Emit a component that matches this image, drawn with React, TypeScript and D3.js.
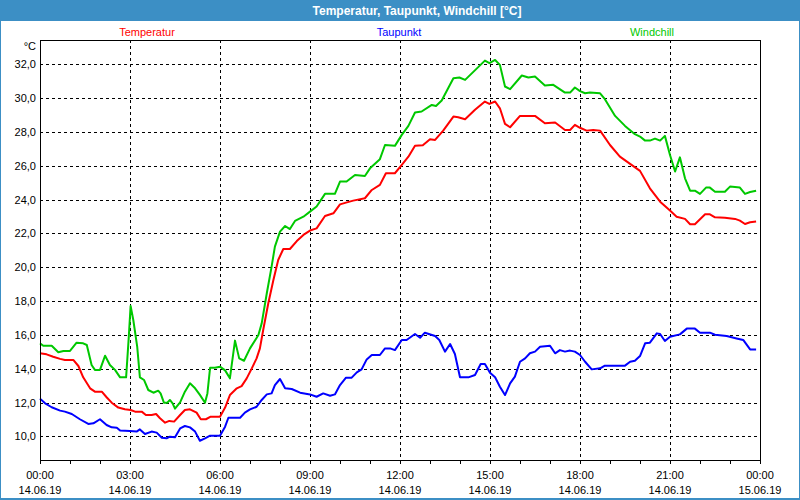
import React, { useEffect } from 'react';
import * as d3 from 'd3';

// hours since 14.06.19 00:00 and readings in °C
const tempHours = [0, 0.22, 0.44, 0.67, 0.83, 1.11, 1.28, 1.44, 1.67, 1.83, 2.06, 2.22, 2.39, 2.61, 2.83, 3.02, 3.17, 3.39, 3.53, 3.72, 3.87, 4.0, 4.17, 4.31, 4.47, 4.67, 4.83, 5.0, 5.22, 5.36, 5.53, 5.69, 6.0, 6.17, 6.33, 6.56, 6.72, 6.89, 7.06, 7.22, 7.33, 7.44, 7.61, 7.78, 7.94, 8.11, 8.33, 8.56, 8.78, 9.0, 9.22, 9.5, 9.78, 10.0, 10.2, 10.44, 10.83, 11.06, 11.33, 11.53, 11.83, 12.06, 12.28, 12.5, 12.76, 13.0, 13.17, 13.44, 13.78, 13.94, 14.17, 14.5, 14.83, 14.98, 15.17, 15.33, 15.5, 15.67, 16.0, 16.5, 16.83, 17.17, 17.5, 17.67, 17.83, 18.0, 18.22, 18.44, 18.67, 19.0, 19.33, 19.67, 20.0, 20.33, 20.67, 21.0, 21.22, 21.5, 21.67, 21.83, 22.17, 22.33, 22.5, 22.83, 23.17, 23.33, 23.5, 23.67, 23.87];
const tempValues = [14.91, 14.85, 14.71, 14.58, 14.52, 14.52, 14.16, 13.49, 12.84, 12.64, 12.64, 12.31, 11.99, 11.7, 11.6, 11.56, 11.46, 11.46, 11.26, 11.26, 11.32, 11.07, 10.81, 10.91, 10.87, 11.26, 11.56, 11.6, 11.4, 11.01, 11.01, 11.16, 11.16, 11.7, 12.44, 12.84, 12.97, 13.43, 14.02, 14.61, 15.2, 16.29, 17.87, 19.25, 20.43, 21.08, 21.08, 21.55, 21.91, 22.17, 22.3, 23.03, 23.19, 23.72, 23.82, 23.94, 24.08, 24.57, 24.87, 25.56, 25.56, 26.05, 26.54, 27.18, 27.22, 27.57, 27.53, 28.08, 28.91, 28.87, 28.75, 29.31, 29.8, 29.66, 29.8, 29.4, 28.48, 28.28, 28.95, 28.95, 28.52, 28.56, 28.12, 28.12, 28.42, 28.25, 28.08, 28.12, 28.08, 27.23, 26.54, 26.11, 25.7, 24.67, 23.88, 23.35, 22.99, 22.86, 22.54, 22.54, 23.13, 23.13, 22.95, 22.93, 22.86, 22.76, 22.56, 22.66, 22.7];

const dewHours = [0, 0.17, 0.39, 0.67, 0.83, 1.06, 1.33, 1.61, 1.78, 2.0, 2.22, 2.39, 2.56, 2.67, 3.0, 3.22, 3.33, 3.5, 3.72, 3.89, 4.06, 4.22, 4.33, 4.5, 4.67, 4.83, 5.0, 5.17, 5.33, 5.5, 5.67, 6.0, 6.17, 6.28, 6.67, 6.83, 7.0, 7.22, 7.39, 7.56, 7.72, 7.83, 8.0, 8.17, 8.39, 8.67, 9.0, 9.22, 9.44, 9.67, 9.83, 10.0, 10.2, 10.39, 10.56, 10.72, 10.89, 11.06, 11.33, 11.5, 11.67, 11.83, 12.06, 12.22, 12.5, 12.67, 12.83, 13.17, 13.31, 13.5, 13.67, 13.83, 14.0, 14.28, 14.5, 14.69, 14.83, 15.0, 15.17, 15.33, 15.5, 15.67, 15.83, 16.0, 16.17, 16.33, 16.5, 16.67, 17.0, 17.17, 17.33, 17.5, 17.67, 17.83, 18.0, 18.17, 18.39, 18.67, 18.83, 19.5, 19.67, 19.83, 20.0, 20.17, 20.33, 20.56, 20.67, 20.83, 21.0, 21.33, 21.56, 21.83, 22.0, 22.33, 22.5, 22.89, 23.22, 23.44, 23.67, 23.87];
const dewValues = [12.23, 11.95, 11.72, 11.52, 11.46, 11.32, 11.01, 10.73, 10.77, 11.01, 10.67, 10.53, 10.51, 10.34, 10.32, 10.28, 10.41, 10.14, 10.28, 10.22, 9.92, 9.88, 9.98, 9.94, 10.47, 10.61, 10.53, 10.28, 9.74, 9.88, 10.04, 10.04, 10.57, 11.1, 11.1, 11.4, 11.59, 11.75, 12.15, 12.48, 12.54, 13.03, 13.39, 12.84, 12.8, 12.58, 12.48, 12.34, 12.54, 12.4, 12.48, 13.03, 13.47, 13.47, 13.78, 13.96, 14.55, 14.81, 14.81, 15.2, 15.2, 15.1, 15.7, 15.7, 16.05, 15.83, 16.13, 15.93, 15.7, 15.01, 15.46, 14.87, 13.49, 13.49, 13.63, 14.28, 14.28, 13.76, 13.49, 12.93, 12.44, 13.13, 13.53, 14.41, 14.61, 14.91, 15.01, 15.3, 15.36, 14.91, 15.1, 15.01, 15.07, 15.01, 14.81, 14.41, 13.96, 14.02, 14.18, 14.18, 14.41, 14.47, 14.75, 15.5, 15.54, 16.09, 16.05, 15.64, 15.89, 16.03, 16.37, 16.37, 16.13, 16.13, 16.01, 15.93, 15.79, 15.7, 15.14, 15.14];

const chillHours = [0, 0.11, 0.39, 0.61, 0.78, 1.0, 1.22, 1.44, 1.56, 1.72, 1.83, 2.0, 2.17, 2.33, 2.5, 2.67, 2.87, 2.96, 3.02, 3.11, 3.24, 3.33, 3.47, 3.61, 3.78, 3.94, 4.02, 4.13, 4.24, 4.33, 4.42, 4.5, 4.67, 4.83, 5.0, 5.17, 5.33, 5.5, 5.58, 5.67, 5.83, 6.0, 6.17, 6.33, 6.5, 6.64, 6.8, 7.0, 7.28, 7.39, 7.56, 7.72, 7.83, 8.0, 8.17, 8.33, 8.5, 8.78, 9.0, 9.22, 9.5, 9.83, 10.0, 10.22, 10.5, 10.83, 11.0, 11.33, 11.5, 11.83, 12.06, 12.28, 12.5, 12.72, 13.06, 13.2, 13.39, 13.78, 13.98, 14.17, 14.83, 14.98, 15.17, 15.33, 15.5, 15.67, 16.06, 16.28, 16.5, 16.83, 17.11, 17.5, 17.67, 17.83, 18.0, 18.17, 18.33, 18.67, 18.83, 19.17, 19.5, 19.83, 20.0, 20.17, 20.33, 20.5, 20.67, 20.83, 21.0, 21.17, 21.33, 21.5, 21.67, 21.83, 22.0, 22.2, 22.33, 22.5, 22.83, 23.0, 23.33, 23.5, 23.67, 23.87];
const chillValues = [15.5, 15.36, 15.36, 14.97, 15.05, 15.05, 15.54, 15.5, 15.4, 14.22, 13.93, 13.93, 14.77, 14.22, 13.93, 13.49, 13.49, 15.9, 17.71, 16.88, 15.31, 13.49, 13.33, 12.74, 12.58, 12.7, 12.54, 11.99, 11.99, 12.15, 11.95, 11.64, 12.01, 12.64, 13.14, 12.84, 12.45, 11.99, 12.54, 14.06, 14.06, 14.12, 13.9, 13.43, 15.66, 14.61, 14.47, 15.2, 15.99, 16.68, 18.46, 20.04, 21.22, 22.11, 22.44, 22.26, 22.74, 22.99, 23.29, 23.59, 24.34, 24.34, 25.07, 25.07, 25.46, 25.4, 25.85, 26.39, 27.23, 27.18, 27.83, 28.36, 29.15, 29.21, 29.6, 29.54, 29.86, 31.18, 31.22, 31.08, 32.22, 32.07, 32.26, 31.97, 30.69, 30.53, 31.34, 31.22, 31.28, 30.75, 30.79, 30.33, 30.33, 30.63, 30.42, 30.29, 30.33, 30.29, 29.94, 28.95, 28.36, 27.87, 27.73, 27.49, 27.49, 27.61, 27.49, 27.77, 26.64, 25.66, 26.5, 25.26, 24.53, 24.53, 24.34, 24.71, 24.71, 24.47, 24.47, 24.77, 24.71, 24.34, 24.45, 24.53];

const yTicks = [10, 12, 14, 16, 18, 20, 22, 24, 26, 28, 30, 32];
const xTickHours = [0, 3, 6, 9, 12, 15, 18, 21, 24];
const xTimeLabels = ['00:00', '03:00', '06:00', '09:00', '12:00', '15:00', '18:00', '21:00', '00:00'];
const xDateLabels = ['14.06.19', '14.06.19', '14.06.19', '14.06.19', '14.06.19', '14.06.19', '14.06.19', '14.06.19', '15.06.19'];

const W = 800;
const H = 500;
const frameBlue = '#3c8fc5';
const font = '"Liberation Sans", Arial, sans-serif';

const App = () => {
  useEffect(() => {
    document.body.style.margin = '0';
  }, []);

  const x = d3.scaleLinear().domain([0, 24]).range([40, 760]);
  const y = d3.scaleLinear().domain([8.6, 33.44]).range([460, 40]);
  const line = d3.line<[number, number]>()
    .x((d) => x(d[0]))
    .y((d) => y(d[1]));

  const series = [
    { name: 'Temperatur', hours: tempHours, values: tempValues, color: '#ff0000', labelX: 147 },
    { name: 'Taupunkt', hours: dewHours, values: dewValues, color: '#0000ff', labelX: 399 },
    { name: 'Windchill', hours: chillHours, values: chillValues, color: '#00c800', labelX: 652 },
  ];
  const fmt = (v: number) => d3.format('.1f')(v).replace('.', ',');

  return (
    <svg width={W} height={H} style={{ display: 'block', position: 'absolute', left: 0, top: 0 }} fontFamily={font}>
      <rect x={0} y={0} width={W} height={H} fill="#ffffff" />
      <rect x={0} y={0} width={W} height={21} fill={frameBlue} />
      <rect x={0.5} y={0.5} width={W - 1} height={H - 1} fill="none" stroke={frameBlue} />
      <rect x={1} y={H - 2} width={W - 2} height={1} fill={frameBlue} />
      <text x={417} y={15} textAnchor="middle" fill="#ffffff" fontWeight="bold" fontSize={12}>
        Temperatur, Taupunkt, Windchill [°C]
      </text>

      {series.map((s) => (
        <text key={s.name} x={s.labelX} y={36} textAnchor="middle" fill={s.color} fontSize={11}>
          {s.name}
        </text>
      ))}

      <text x={36} y={50} textAnchor="end" fontSize={11} fill="#000">°C</text>

      {/* grid */}
      <g stroke="#000" strokeDasharray="3,3" shapeRendering="crispEdges">
        {yTicks.map((t) => (
          <line key={t} x1={40} x2={760} y1={Math.round(y(t)) + 0.5} y2={Math.round(y(t)) + 0.5} />
        ))}
        {xTickHours.slice(1, -1).map((h) => (
          <line key={h} x1={x(h) + 0.5} x2={x(h) + 0.5} y1={40} y2={460} />
        ))}
      </g>

      {yTicks.map((t) => (
        <text key={t} x={36} y={Math.round(y(t)) + 4} textAnchor="end" fontSize={11} fill="#000">
          {fmt(t)}
        </text>
      ))}

      {/* hourly ticks */}
      <g stroke="#000" shapeRendering="crispEdges">
        {d3.range(0, 25).map((h) => (
          <line key={h} x1={x(h) + 0.5} x2={x(h) + 0.5} y1={460} y2={464} />
        ))}
      </g>
      {xTickHours.map((h, i) => (
        <g key={i} fontSize={11} fill="#000" textAnchor="middle">
          <text x={x(h)} y={479}>{xTimeLabels[i]}</text>
          <text x={x(h)} y={494}>{xDateLabels[i]}</text>
        </g>
      ))}

      {series.map((s) => (
        <path
          key={s.name}
          d={line(s.hours.map((h, i) => [h, s.values[i]] as [number, number])) || ''}
          fill="none"
          stroke={s.color}
          strokeWidth={2}
          strokeLinejoin="round"
        />
      ))}

      <rect x={40.5} y={40.5} width={720} height={420} fill="none" stroke="#000" shapeRendering="crispEdges" />
    </svg>
  );
};

export default App;
